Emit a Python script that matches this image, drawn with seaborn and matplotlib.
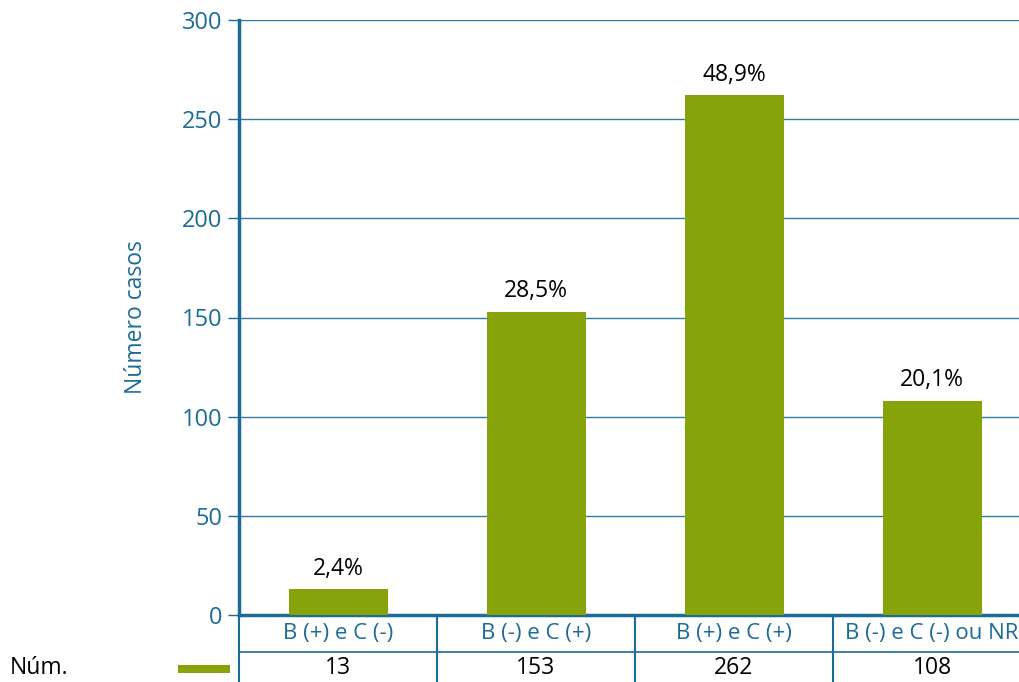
import matplotlib
matplotlib.use("Agg")
import matplotlib.pyplot as plt
import matplotlib.transforms as mtransforms
from matplotlib.lines import Line2D
from matplotlib.patches import Rectangle
from matplotlib import font_manager
import seaborn as sns
import pandas as pd

# dados
categorias = ["B (+) e C (-)", "B (-) e C (+)", "B (+) e C (+)", "B (-) e C (-) ou NR"]
casos = [13, 153, 262, 108]
percentagens = ["2,4%", "28,5%", "48,9%", "20,1%"]
yticks = [0, 50, 100, 150, 200, 250, 300]

azul = "#1b6c96"
verde = "#86a30a"

sns.set_style("white")
plt.rcParams["font.family"] = ["Open Sans", "DejaVu Sans"]

nomes = {f.name for f in font_manager.fontManager.ttflist}
estreita = "Liberation Sans Narrow" if "Liberation Sans Narrow" in nomes else "Open Sans"

df = pd.DataFrame({"cat": categorias, "n": casos})

fig = plt.figure(figsize=(10.19, 6.82), dpi=100)
W, H = 1019, 682
ax = fig.add_axes([239 / W, 1 - 615 / H, (1031 - 239) / W, (615 - 20) / H])

sns.barplot(data=df, x="cat", y="n", color=verde, saturation=1, width=0.5, ax=ax,
            zorder=3, linewidth=0, edgecolor="none")
ax.set_xlim(-0.5, 3.5)
ax.set_ylim(0, 300)
ax.set_yticks(yticks)
ax.set_yticklabels([str(t) for t in yticks], fontsize=17, color=azul)
ax.tick_params(axis="y", length=8, width=1, color=azul, direction="out", pad=4, left=True)
ax.set_xticks([])
ax.set_xlabel("")
ax.set_ylabel("Número casos", fontsize=16.5, color=azul, labelpad=24)
ax.grid(axis="y", color=azul, lw=1, alpha=0.9, zorder=0)
for s in ["top", "right"]:
    ax.spines[s].set_visible(False)
ax.spines["left"].set_color(azul)
ax.spines["left"].set_linewidth(2.5)
ax.spines["bottom"].set_color(azul)
ax.spines["bottom"].set_linewidth(2.5)

ax.bar_label(ax.containers[0], labels=percentagens, padding=6, fontsize=16.5,
             color="black", family=[estreita, "DejaVu Sans"])

# tabela por baixo do eixo
tr = mtransforms.blended_transform_factory(ax.transData, fig.transFigure)
y_base = 1 - 615 / H
y_linha = 1 - 652 / H
for i, (c, n) in enumerate(zip(categorias, casos)):
    ax.text(i, 1 - 634 / H, c, transform=tr, ha="center", va="center", fontsize=16,
            color=azul, family=[estreita, "DejaVu Sans"], clip_on=False)
    ax.text(i, 1 - 668 / H, str(n), transform=tr, ha="center", va="center", fontsize=16.5,
            color="black", family=[estreita, "DejaVu Sans"], clip_on=False)
for xv in [-0.5, 0.5, 1.5, 2.5]:
    ax.add_line(Line2D([xv, xv], [0, y_base], transform=tr, color=azul, lw=1.5, clip_on=False))
ax.add_line(Line2D([-0.5, 3.6], [y_linha, y_linha], transform=tr, color=azul, lw=1.2, clip_on=False))

fig.text(10 / W, 1 - 668 / H, "Núm.", ha="left", va="center", fontsize=16.5,
         color="black", family=[estreita, "DejaVu Sans"])
fig.add_artist(Rectangle((178 / W, 1 - 673 / H), 52 / W, 8 / H, transform=fig.transFigure,
                         facecolor=verde, edgecolor="none"))

fig.savefig("out.png", dpi=100)
